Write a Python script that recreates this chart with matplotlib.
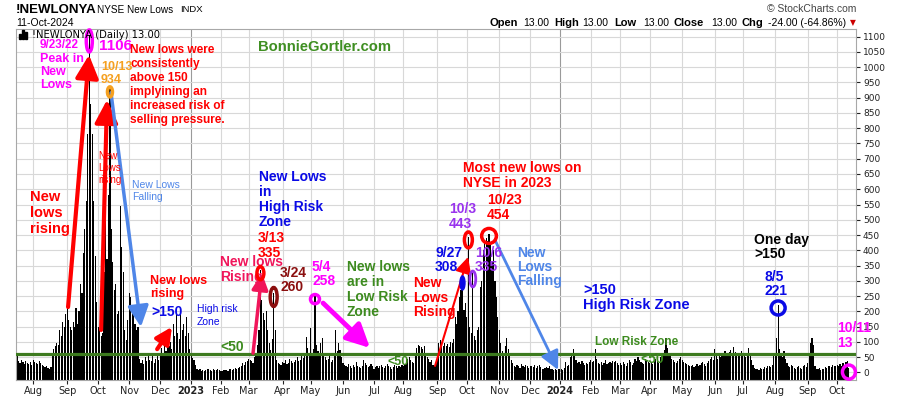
import matplotlib
matplotlib.use("Agg")
import matplotlib.pyplot as plt
from matplotlib.patches import Ellipse, Rectangle
import numpy as np
import pandas as pd

plt.rcParams["font.family"] = ["Liberation Sans", "DejaVu Sans"]

# NYSE new lows, daily values, one list per month
jul22 = [52, 38, 30, 42, 35, 28, 36, 30, 26, 33, 24]
aug22 = [40, 35, 30, 28, 38, 30, 25, 22, 18, 20, 15, 12, 18, 60, 75, 85, 95, 90, 140, 120, 165, 150, 190]
sep22 = [248, 170, 150, 140, 165, 150, 210, 160, 200, 290, 260, 390, 470, 560, 780, 1106, 880, 780, 560, 380, 230]
oct22 = [150, 140, 120, 130, 330, 570, 370, 580, 934, 470, 360, 270, 290, 190, 200, 545, 410, 330, 140, 105, 170]
nov22 = [259, 248, 193, 200, 160, 139, 150, 45, 30, 40, 28, 50, 38, 55, 42, 36, 58, 30, 45, 52, 40]
dec22 = [55, 80, 65, 95, 70, 90, 85, 100, 75, 160, 120, 193, 128, 110, 193, 140, 160, 120, 180, 130, 75]
jan23 = [55, 48, 40, 25, 12, 8, 10, 6, 9, 5, 7, 12, 10, 8, 6, 11, 9, 7, 10, 8]
feb23 = [6, 5, 8, 7, 9, 6, 10, 12, 9, 11, 14, 10, 15, 18, 22, 30, 25, 35, 38]
mar23 = [45, 40, 38, 30, 50, 60, 90, 140, 335, 237, 193, 172, 200, 139, 95, 73, 110, 260, 139, 40, 30, 28, 25]
apr23 = [35, 30, 40, 28, 32, 45, 38, 30, 35, 42, 50, 36, 40, 55, 48, 65, 117, 80, 60]
may23 = [144, 60, 75, 258, 90, 70, 55, 95, 111, 65, 50, 40, 45, 60, 35, 40, 55, 139, 70, 95, 73, 50]
jun23 = [30, 25, 22, 18, 28, 20, 15, 24, 19, 35, 22, 18, 14, 20, 40, 30, 25, 16, 20, 28, 22]
jul23 = [12, 18, 22, 15, 20, 25, 18, 14, 22, 28, 20, 16, 12, 18, 24, 20, 15, 22, 18, 25]
aug23 = [20, 28, 35, 45, 51, 40, 35, 30, 60, 79, 90, 86, 82, 75, 88, 60, 50, 45, 35, 40, 25, 20, 30]
sep23 = [60, 95, 106, 90, 85, 95, 88, 92, 84, 100, 95, 110, 182, 160, 200, 248, 270, 308, 204, 226]
oct23 = [180, 443, 150, 130, 335, 120, 106, 140, 150, 280, 300, 400, 428, 440, 430, 454, 420, 363, 400, 300, 248, 180]
nov23 = [139, 95, 70, 60, 85, 111, 75, 55, 40, 30, 22, 18, 25, 20, 15, 28, 20, 18, 25, 22, 14]
dec23 = [20, 22, 18, 25, 15, 20, 24, 18, 12, 10, 14, 18, 15, 20, 12, 10, 8, 12, 9, 10]
jan24 = [10, 12, 8, 15, 35, 20, 25, 51, 57, 78, 55, 40, 30, 35, 28, 38, 30, 25, 32, 28, 35]
feb24 = [40, 35, 38, 75, 45, 30, 28, 35, 25, 30, 40, 28, 32, 35, 30, 38, 33, 36, 30, 25]
mar24 = [30, 25, 35, 28, 22, 30, 40, 35, 25, 30, 45, 38, 50, 42, 35, 30, 28, 45, 40, 35]
apr24 = [30, 35, 28, 40, 45, 38, 30, 50, 55, 65, 73, 111, 80, 60, 55, 45, 40, 35, 30, 38, 45, 50]
may24 = [40, 35, 30, 28, 25, 22, 20, 25, 18, 22, 28, 20, 25, 30, 35, 28, 22, 30, 38, 45, 50, 42]
jun24 = [76, 55, 45, 60, 50, 65, 58, 70, 62, 55, 68, 72, 60, 84, 66, 58, 62, 55, 70]
jul24 = [60, 55, 50, 65, 79, 58, 40, 25, 15, 12, 10, 8, 14, 12, 10, 18, 15, 20, 22, 18, 25, 60]
aug24 = [60, 111, 221, 75, 55, 50, 70, 45, 30, 22, 18, 25, 20, 15, 12, 18, 22, 15, 12, 20, 25, 18]
sep24 = [30, 62, 95, 111, 90, 20, 12, 10, 15, 8, 12, 10, 18, 15, 20, 22, 18, 25, 20, 22]
oct24 = [25, 20, 28, 22, 30, 25, 33, 37, 13]

new_lows = (jul22 + aug22 + sep22 + oct22 + nov22 + dec22 + jan23 + feb23 + mar23 + apr23
            + may23 + jun23 + jul23 + aug23 + sep23 + oct23 + nov23 + dec23 + jan24 + feb24
            + mar24 + apr24 + may24 + jun24 + jul24 + aug24 + sep24 + oct24)

nyse_holidays = ["2022-09-05", "2022-11-24", "2022-12-26", "2023-01-02", "2023-01-16",
                 "2023-02-20", "2023-04-07", "2023-05-29", "2023-06-19", "2023-07-04",
                 "2023-09-04", "2023-11-23", "2023-12-25", "2024-01-01", "2024-01-15",
                 "2024-02-19", "2024-03-29", "2024-05-27", "2024-06-19", "2024-07-04",
                 "2024-09-02"]
dates = pd.bdate_range("2022-07-15", "2024-10-11", freq="C", holidays=nyse_holidays)
dates = dates[-len(new_lows):]
x = np.arange(len(new_lows))
ymin, ymax = -25, 1125


def day(s):
    return int(dates.get_indexer([pd.Timestamp(s)])[0])


fig = plt.figure(figsize=(9, 3.96), dpi=100)
ax = fig.add_axes([16 / 900, 1 - 380 / 396, 840 / 900, 351 / 396])

ax.bar(x, np.array(new_lows) - ymin, bottom=ymin, width=0.78, color="black", zorder=2)
ax.axhline(60, color="#3d7b1f", lw=2.3, zorder=3)

# month ticks at the first trading day of every month
month_start = [i for i in range(1, len(dates)) if dates[i].month != dates[i - 1].month]
month_lbl = [str(dates[i].year) if dates[i].month == 1 else dates[i].strftime("%b") for i in month_start]
ax.set_xticks(month_start)
ax.set_xticklabels(month_lbl, family="DejaVu Sans", fontsize=7)
for i, t in zip(month_start, ax.get_xticklabels()):
    if dates[i].month == 1:
        t.set_fontweight("bold")
for i in month_start:
    ax.axvline(i, color="#9a9a9a" if dates[i].month == 1 else "#d8d8d8", lw=0.8, zorder=0)
for v in range(0, 1101, 50):
    ax.axhline(v, color="#d8d8d8", lw=0.8, zorder=0)

ax.set_xlim(-0.7, 568.8)
ax.set_ylim(ymin, ymax)
ax.yaxis.tick_right()
ax.set_yticks(range(0, 1101, 50))
ax.tick_params(axis="y", labelsize=6.5, length=3, pad=2, colors="#222222")
ax.tick_params(axis="x", length=3, pad=1, colors="#222222")
for lbl in ax.get_yticklabels():
    lbl.set_family("DejaVu Sans")
for s in ax.spines.values():
    s.set_color("#a8a8a8")
    s.set_linewidth(0.8)


def note(ix, y, lines, color, size=10, step=46, weight="bold"):
    for k, t in enumerate(lines):
        ax.text(ix, y - k * step, t, color=color, fontsize=size, fontweight=weight,
                ha="left", va="center", zorder=6)


def arrow(tail, head, color, lw=3, scale=16):
    ax.annotate("", xy=head, xytext=tail, zorder=5,
                arrowprops=dict(arrowstyle="-|>,head_length=0.7,head_width=0.35", color=color,
                                lw=lw, mutation_scale=scale, shrinkA=0, shrinkB=0))


def ring(d, y, w, h, color, lw=2.5, fill=False):
    ax.add_patch(Ellipse((day(d), y), w, h, fill=fill, facecolor=color, edgecolor=color,
                         lw=lw, zorder=6, clip_on=False))


red, mag, blue, green = "#ff0000", "#ff00ff", "#0a0ae6", "#3d8b1f"
cblue, pink, dred, purple, orange = "#4f86e8", "#f0155a", "#8b0f0f", "#9933ee", "#f5a020"

# 2022 peak
note(15.6, 1073, ["9/23/22"], mag, size=8.5)
note(15.6, 1027, ["Peak in", "New", "Lows"], mag, size=9, step=43)
ring("2022-09-23", 1086, 4.1, 72, mag)
note(55.6, 1070, ["1106"], mag, size=11)
note(76.6, 1057, ["New lows were", "consistently", "above 150", "implyining an",
                  "increased risk of", "selling pressure."], red, size=8.6, step=46)
note(57, 1001, ["10/13", "934"], orange, size=9, step=43)
ring("2022-10-13", 919, 3.4, 33, orange)
note(163.4, 1067, ["BonnieGortler.com"], "#3f8f22", size=10.7)

arrow((34.6, 214), (48.8, 1040), red, lw=3, scale=20)
note(8.8, 575, ["New", "lows", "rising"], red, size=10.5, step=52)
arrow((57, 139), (61, 893), red, lw=3, scale=20)
note(55, 709, ["New", "Lows", "rising"], red, size=7, step=39, weight="normal")
arrow((63.7, 916), (84, 149), cblue, lw=2.5, scale=18)
note(78, 614, ["New Lows", "Falling"], cblue, size=7.5, step=39, weight="normal")

note(90, 300, ["New lows", "rising"], red, size=9, step=43)
arrow((95, 76), (105, 149), red, lw=3, scale=14)
note(91, 198, [">150"], blue, size=10)
note(122, 208, ["High risk", "Zone"], blue, size=7.5, step=43, weight="normal")
note(138, 83, ["<50"], green, size=10)

# 2023
note(164, 640, ["New Lows", "in", "High Risk", "Zone"], blue, step=49)
note(163.4, 440, ["3/13", "335"], red, step=49)
note(137.6, 362, ["New lows", "Rising"], pink, step=49)
arrow((160, 63), (166, 325), pink, lw=2.5, scale=14)
ring("2023-03-13", 325, 4.7, 43, red)
note(178.3, 325, ["3/24", "260"], dred, step=46)
ring("2023-03-24", 247, 4.7, 62, dred)
note(200, 345, ["5/4", "258"], mag, step=46)
ring("2023-05-04", 240, 6.1, 30, mag)
arrow((207.5, 227), (239.3, 80), mag, lw=3.5, scale=20)
note(223.7, 345, ["New lows", "are in", "Low Risk", "Zone"], green, step=49)
note(251.5, 34, ["<50"], green, size=9)

note(268.5, 293, ["New", "Lows", "Rising"], red, step=48)
arrow((283.4, 21), (305.8, 378), red, lw=1.5, scale=14)
note(283.4, 391, ["9/27", "308"], blue, step=46)
ring("2023-09-27", 293, 3.4, 46, blue, lw=1, fill=True)
note(292.9, 535, ["10/3", "443"], purple, step=49)
ring("2023-10-03", 434, 5.4, 52, red)
note(310.5, 391, ["10/6", "335"], purple, step=46)
ring("2023-10-06", 306, 4, 52, purple, lw=2)
note(302.4, 670, ["Most new lows on", "NYSE in 2023"], red, step=49)
note(318.6, 565, ["10/23", "454"], red, step=49)
ring("2023-10-23", 447, 10, 49, red, lw=2.5)
arrow((324, 434), (366.8, 8), cblue, lw=2, scale=16)
note(339, 391, ["New", "Lows", "Falling"], cblue, step=46)

# 2024
note(383.7, 270, [">150", "High Risk Zone"], blue, size=10.5, step=49)
note(391.9, 99, ["Low Risk Zone"], green, size=8.5)
note(422.4, 44, ["<50"], green, size=10)
note(499.7, 434, ["One day", ">150"], "black", step=46)
note(507, 313, ["8/5", "221"], blue, step=46)
ring("2024-08-05", 211, 9.5, 46, blue)
note(556, 145, ["10/11", "13"], mag, step=49)
ring("2024-10-11", 1, 8.8, 46, mag)

# header
fig.text(16 / 900, 1 - 10 / 396, "!NEWLONYA", fontsize=9.5, fontweight="bold", va="center")
fig.text(97 / 900, 1 - 10 / 396, "NYSE New Lows", fontsize=7.2, va="center")
fig.text(180 / 900, 1 - 10 / 396, "INDX", fontsize=6.8, va="center")
fig.text(16 / 900, 1 - 22.7 / 396, "11-Oct-2024", fontsize=7.5, va="center")
fig.text(856 / 900, 1 - 9 / 396, "\u00a9 StockCharts.com", fontsize=7.5, color="#444444",
         ha="right", va="center")
ohlc = [(490, "Open", True), (523, "13.00", False), (554, "High", True), (582, "13.00", False),
        (614, "Low", True), (643, "13.00", False), (674, "Close", True), (711, "13.00", False),
        (742, "Chg", True), (768, "-24.00 (-64.86%)", False)]
for px, t, b in ohlc:
    fig.text(px / 900, 1 - 22.7 / 396, t, fontsize=8 if b else 7.5,
             fontweight="bold" if b else "normal", va="center")
fig.text(850 / 900, 1 - 22.7 / 396, "\u25bc", fontsize=5.5, color="#cc0000", va="center",
         family="DejaVu Sans")

# legend inside the panel
for k, h in enumerate([5, 9, 7]):
    fig.patches.append(Rectangle(((19 + k * 3) / 900, 1 - 39 / 396), 1.8 / 900, h / 396,
                                 transform=fig.transFigure, color="black"))
fig.text(32 / 900, 1 - 35 / 396, "!NEWLONYA (Daily) 13.00", fontsize=7.2,
         family="DejaVu Sans", va="center")

fig.savefig("out.png", dpi=100)
